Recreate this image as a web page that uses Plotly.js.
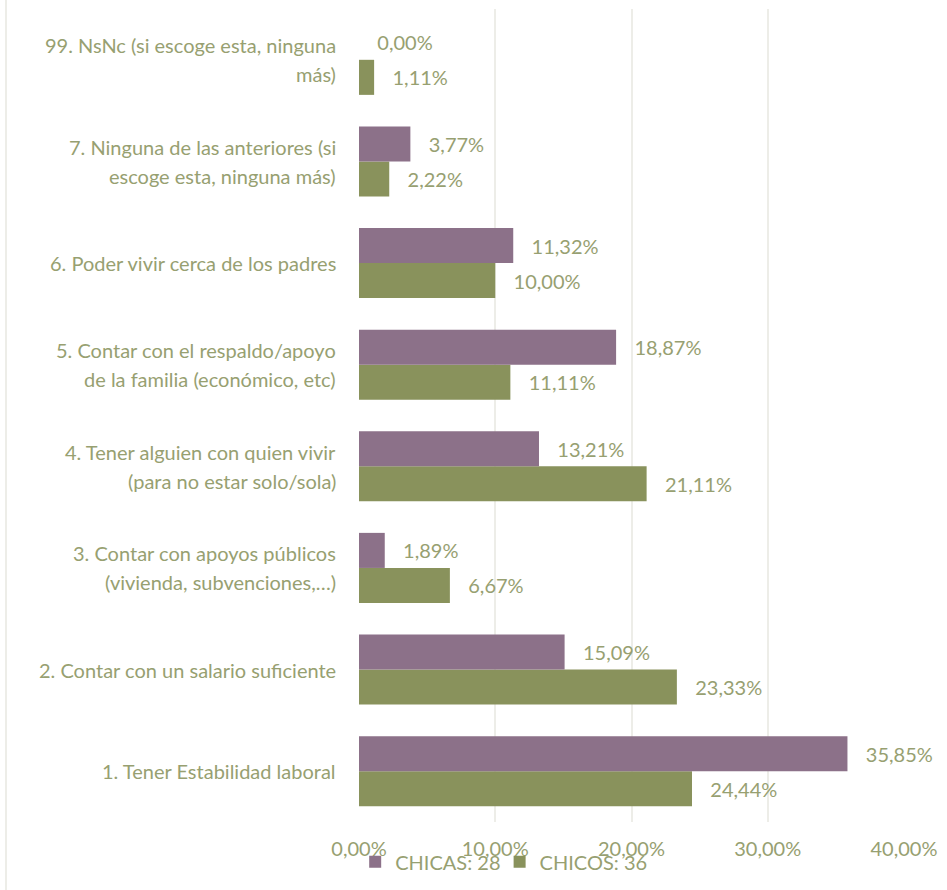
<!DOCTYPE html>
<html>
<head>
<meta charset="utf-8">
<script src="https://cdn.plot.ly/plotly-3.0.1.min.js"></script>
<style>
html,body{margin:0;padding:0;background:#fff;}
#chart{width:947px;height:890px;}
</style>
</head>
<body>
<div id="chart"></div>
<script>
// Categories (bottom to top), each as lines of its label
const categoryLines = [
  ["1. Tener Estabilidad laboral"],
  ["2. Contar con un salario suficiente"],
  ["3. Contar con apoyos públicos", "(vivienda, subvenciones,…)"],
  ["4. Tener alguien con quien vivir", "(para no estar solo/sola)"],
  ["5. Contar con el respaldo/apoyo", "de la familia (económico, etc)"],
  ["6. Poder vivir cerca de los padres"],
  ["7. Ninguna de las anteriores (si", "escoge esta, ninguna más)"],
  ["99. NsNc (si escoge esta, ninguna", "más)"]
];
const categories = categoryLines.map(l => l.join(" "));
const chicas = [35.85, 15.09, 1.89, 13.21, 18.87, 11.32, 3.77, 0.00];
const chicos = [24.44, 23.33, 6.67, 21.11, 11.11, 10.00, 2.22, 1.11];
const seriesNames = ["CHICAS: 28", "CHICOS: 36"];
const xTicks = [0, 10, 20, 30, 40];
const xTickText = xTicks.map(v => v.toFixed(2).replace(".", ",") + "%");

const FONT = "Lato, 'Open Sans', sans-serif";
const FS = 20;
const TXT = "#97A071";
const PURPLE = "#8C7189";
const GREEN = "#89925C";
const NB = "\u00A0\u00A0\u00A0";

const traceChicos = {
  type: "bar", orientation: "h", name: seriesNames[1], legend: "legend2",
  y: categories, x: chicos,
  marker: {color: GREEN},
  texttemplate: NB + "%{x:.2f}%", textposition: "outside",
  cliponaxis: false, constraintext: "none",
  textfont: {family: FONT, size: FS, color: TXT},
  hoverinfo: "skip"
};
const traceChicas = {
  type: "bar", orientation: "h", name: seriesNames[0], legend: "legend",
  y: categories, x: chicas,
  marker: {color: PURPLE},
  texttemplate: NB + "%{x:.2f}%", textposition: "outside",
  cliponaxis: false, constraintext: "none",
  textfont: {family: FONT, size: FS, color: TXT},
  hoverinfo: "skip"
};

const annotations = [];
categoryLines.forEach((lines, i) => {
  const n = lines.length;
  lines.forEach((ln, j) => {
    annotations.push({
      xref: "paper", x: 0, xshift: -21, xanchor: "right",
      yref: "y", y: categories[i], yshift: ((n - 1) / 2 - j) * 29,
      yanchor: "middle", text: ln, showarrow: false, align: "center",
      font: {family: FONT, size: FS, color: TXT}
    });
  });
});

const legendBase = {
  orientation: "h", xanchor: "left", y: -0.025, yanchor: "top",
  font: {family: FONT, size: FS, color: TXT},
  bgcolor: "rgba(0,0,0,0)", itemwidth: 30
};

const layout = {
  width: 947, height: 890,
  margin: {l: 359, r: 43, t: 9, b: 68},
  paper_bgcolor: "#ffffff", plot_bgcolor: "#ffffff",
  separators: ",.",
  barmode: "group", bargap: 0.31, bargroupgap: 0,
  font: {family: FONT, size: FS, color: TXT},
  xaxis: {
    range: [0, 40], tickmode: "array", tickvals: xTicks, ticktext: xTickText,
    showgrid: true, gridcolor: "#EDEDE8", gridwidth: 2, zeroline: false,
    showline: false, ticks: "", ticklabelstandoff: 13,
    tickfont: {family: FONT, size: FS, color: TXT}, fixedrange: true
  },
  yaxis: {
    type: "category", categoryorder: "array", categoryarray: categories,
    showticklabels: false, showgrid: false, zeroline: false, showline: false,
    ticks: "", fixedrange: true
  },
  legend: Object.assign({}, legendBase, {x: -0.007}),
  legend2: Object.assign({}, legendBase, {x: 0.258}),
  annotations: annotations,
  shapes: [{
    type: "line", xref: "paper", yref: "paper",
    x0: (6 - 359) / 545, x1: (6 - 359) / 545, y0: -68 / 813, y1: 1 + 9 / 813,
    line: {color: "#EDEDE8", width: 2}
  }],
  showlegend: true
};

Plotly.newPlot("chart", [traceChicos, traceChicas], layout, {displayModeBar: false, staticPlot: true});
</script>
</body>
</html>
